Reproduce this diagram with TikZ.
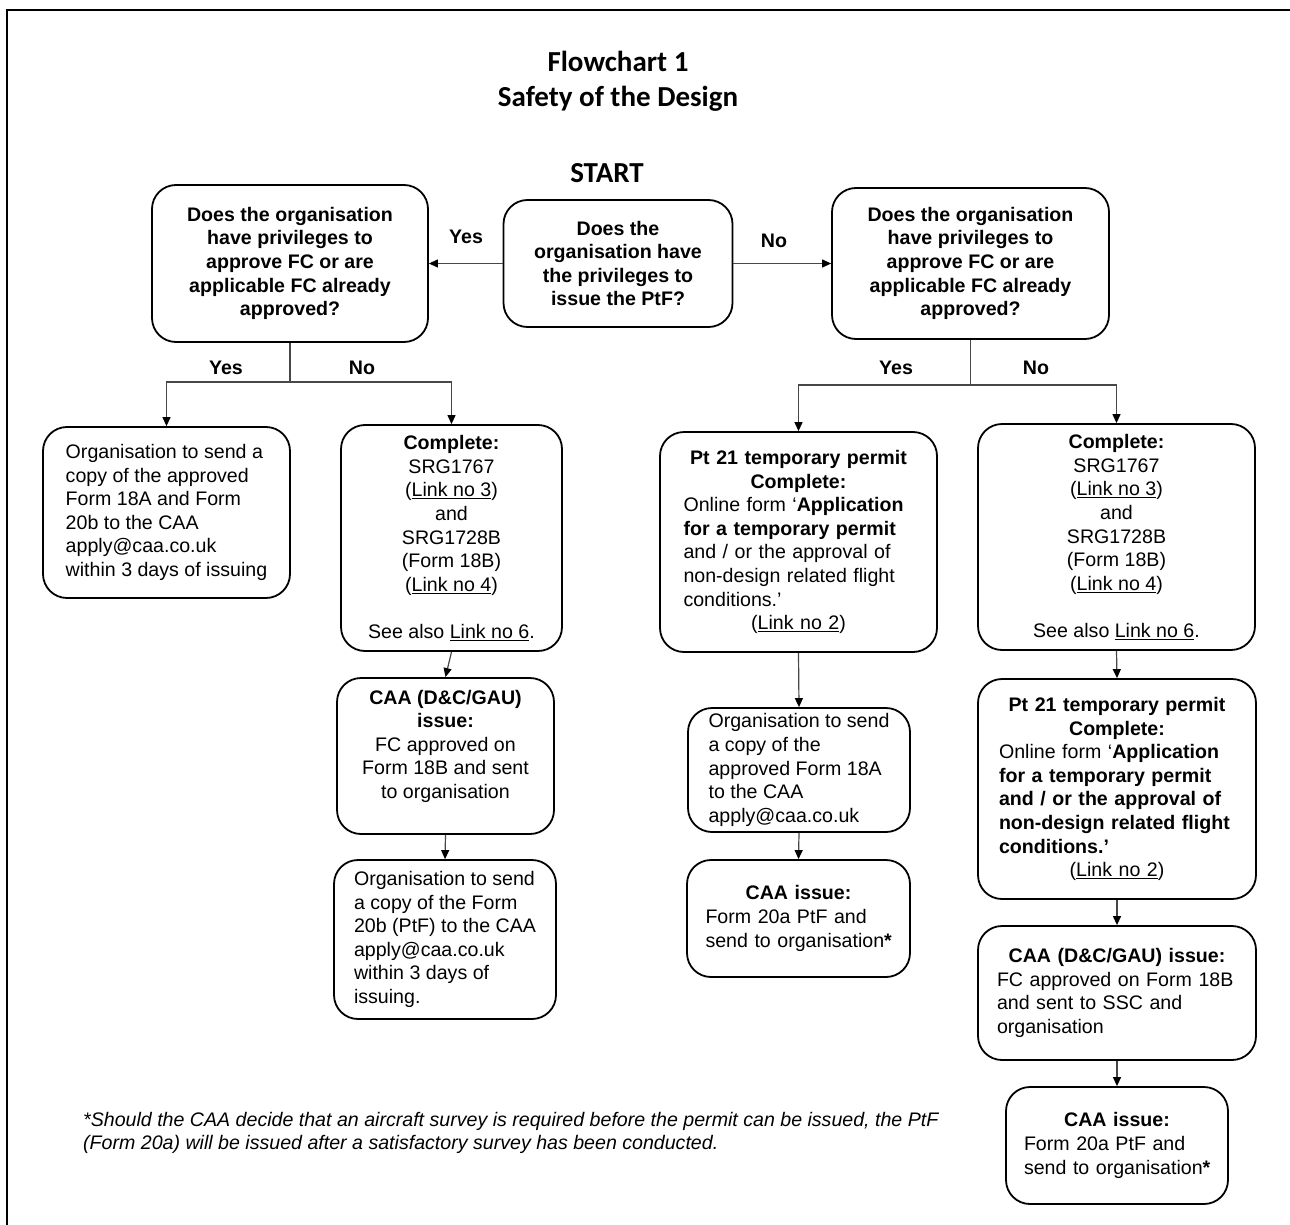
\documentclass[tikz,border=0pt]{standalone}
\usepackage{fontspec}
\setmainfont{Liberation Sans}
\newfontfamily\titlefont{Carlito}
\usetikzlibrary{arrows.meta}
\tikzset{
  box/.style={draw=black, line width=1.8pt, rounded corners=24pt, inner sep=0pt,
    font=\fontsize{19.6pt}{23.6pt}\selectfont, align=center},
  boxl/.style={box, align=left},
  lbl/.style={font=\fontsize{19.6pt}{23.6pt}\selectfont\bfseries, inner sep=0pt},
  arr/.style={draw=black!72, line width=1.2pt, -{Triangle[length=9pt,width=8pt,color=black]}},
  ln/.style={draw=black!72, line width=1.2pt},
}
\begin{document}
\begin{tikzpicture}[x=1pt,y=-1pt]
\useasboundingbox (0,0) rectangle (1290,1225);
\draw[line width=2.2pt] (1295,10) -- (7,10) -- (7,1230);

% titles
\node[font=\titlefont\fontsize{29pt}{35pt}\selectfont\bfseries, align=center, inner sep=0pt] (title) at (618,81) {Flowchart 1\\Safety of the Design};
\node[font=\titlefont\fontsize{29pt}{35pt}\selectfont\bfseries, inner sep=0pt] (start) at (607,173) {START};

% decision boxes
\node[box, font=\fontsize{19.6pt}{23.6pt}\selectfont\bfseries, minimum width=229pt, minimum height=127pt] (q0) at (618,263.5)
  {Does the\\organisation have\\the privileges to\\issue the PtF?};
\node[box, font=\fontsize{19.6pt}{23.6pt}\selectfont\bfseries, minimum width=276pt, minimum height=157pt] (lq) at (290,263.5)
  {Does the organisation\\have privileges to\\approve FC or are\\applicable FC already\\approved?};
\node[box, font=\fontsize{19.6pt}{23.6pt}\selectfont\bfseries, minimum width=277pt, minimum height=151pt] (rq) at (970.5,263.5)
  {Does the organisation\\have privileges to\\approve FC or are\\applicable FC already\\approved?};

% left column boxes
\node[boxl, minimum width=247pt, minimum height=171pt] (a1) at (166.5,512.5)
  {Organisation to send a\\copy of the approved\\Form 18A and Form\\20b to the CAA\\apply@caa.co.uk\\within 3 days of issuing};
\node[box, minimum width=221pt, minimum height=226pt] (a2) at (451.5,538)
  {\textbf{Complete:}\\SRG1767\\(\underline{Link no 3})\\and\\SRG1728B\\(Form 18B)\\(\underline{Link no 4})\\[23.6pt]See also \underline{Link no 6}.};
\node[box, minimum width=217pt, minimum height=156pt] (a3) at (445.5,756)
  {\textbf{CAA (D\&C/GAU)}\\\textbf{issue:}\\FC approved on\\Form 18B and sent\\to organisation\\\mbox{}};
\node[boxl, minimum width=222pt, minimum height=159pt] (a4) at (445,939.5)
  {Organisation to send\\a copy of the Form\\20b (PtF) to the CAA\\apply@caa.co.uk\\within 3 days of\\issuing.};

% middle-right column
\node[boxl, text width=230pt, minimum width=277pt, minimum height=220pt] (b1) at (798.5,542)
  {\makebox[\linewidth]{\textbf{Pt 21 temporary permit}}\\
   \makebox[\linewidth]{\textbf{Complete:}}\\
   Online form ‘\textbf{Application}\\
   \textbf{for a temporary permit}\\
   and / or the approval of\\
   non-design related flight\\
   conditions.’\\
   \makebox[\linewidth]{(\underline{Link no 2})}};
\node[boxl, minimum width=222pt, minimum height=124pt] (b2) at (799,770)
  {Organisation to send\\a copy of the\\approved Form 18A\\to the CAA\\apply@caa.co.uk};
\node[boxl, text width=186pt, minimum width=223pt, minimum height=117pt] (b3) at (798.5,918.5)
  {\makebox[\linewidth]{\textbf{CAA issue:}}\\Form 20a PtF and\\\mbox{send to organisation\textbf{*}}};

% right column
\node[box, minimum width=277pt, minimum height=226pt] (c1) at (1116.5,537)
  {\textbf{Complete:}\\SRG1767\\(\underline{Link no 3})\\and\\SRG1728B\\(Form 18B)\\(\underline{Link no 4})\\[23.6pt]See also \underline{Link no 6}.};
\node[boxl, text width=236pt, minimum width=278pt, minimum height=220pt] (c2) at (1117,789)
  {\makebox[\linewidth]{\textbf{Pt 21 temporary permit}}\\
   \makebox[\linewidth]{\textbf{Complete:}}\\
   Online form ‘\textbf{Application}\\
   \textbf{for a temporary permit}\\
   \textbf{and / or the approval of}\\
   \textbf{non-design related flight}\\
   \textbf{conditions.’}\\
   \makebox[\linewidth]{(\underline{Link no 2})}};
\node[boxl, text width=240pt, minimum width=278pt, minimum height=134pt] (c3) at (1117,993)
  {\makebox[\linewidth]{\textbf{CAA (D\&C/GAU) issue:}}\\FC approved on Form 18B\\and sent to SSC and\\organisation};
\node[boxl, text width=186pt, minimum width=222pt, minimum height=117pt] (c4) at (1117,1145.5)
  {\makebox[\linewidth]{\textbf{CAA issue:}}\\Form 20a PtF and\\\mbox{send to organisation\textbf{*}}};

% footnote
\node[anchor=west, align=left, inner sep=0pt, font=\fontsize{19.6pt}{23pt}\selectfont\itshape] (fn) at (83,1132.5)
  {*Should the CAA decide that an aircraft survey is required before the permit can be issued, the PtF\\(Form 20a) will be issued after a satisfactory survey has been conducted.};

% connectors
\draw[arr] (q0.west) -- (lq.east);
\draw[arr] (q0.east) -- (rq.west);
\node[lbl] (yes0) at (466,237) {Yes};
\node[lbl] (no0) at (774,241) {No};

\coordinate (ls) at (290,382);
\draw[ln] (lq.south) -- (ls);
\draw[arr] (ls) -| (a1.north);
\draw[arr] (ls) -| (a2.north);
\node[lbl] (yes1) at (226,368) {Yes};
\node[lbl] (no1) at (362,368) {No};

\coordinate (rs) at (970.5,385);
\draw[ln] (rq.south) -- (rs);
\draw[arr] (rs) -| (b1.north);
\draw[arr] (rs) -| (c1.north);
\node[lbl] (yes2) at (896,368) {Yes};
\node[lbl] (no2) at (1036,368) {No};

\draw[arr] (a2.south) -- (a3.north);
\draw[arr] (a3.south) -- (a4.north);
\draw[arr] (b1.south) -- (b2.north);
\draw[arr] (b2.south) -- (b3.north);
\draw[arr] (c1.south) -- (c2.north);
\draw[arr] (c2.south) -- (c3.north);
\draw[arr] (c3.south) -- (c4.north);
\end{tikzpicture}
\end{document}
